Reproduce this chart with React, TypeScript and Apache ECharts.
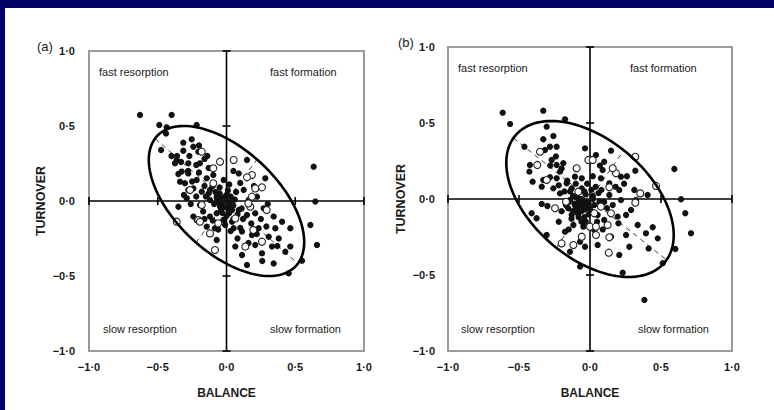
import React, { useEffect, useRef } from "react";
import * as echarts from "echarts";

// ---------- data ----------
const tickValues = [-1, -0.5, 0, 0.5, 1];
const tickLabels = ["−1·0", "−0·5", "0·0", "0·5", "1·0"];
const crossTicks = [-1, -0.5, 0.5, 1];
const quadrantLabels = ["fast resorption", "fast formation", "slow resorption", "slow formation"];
const panelTitles = ["(a)", "(b)"];
const xName = "BALANCE";
const yName = "TURNOVER";

// ellipse: [cx, cy, semi-major, semi-minor, angle (deg)]
const ellipseA = [0, 0, 0.666, 0.355, -38.7];
const ellipseB = [0, 0, 0.672, 0.399, -36.6];

const filledA = [
  [-0.629, 0.573], [-0.399, 0.573], [-0.489, 0.507], [-0.435, 0.491], [-0.217, 0.507], [-0.44, 0.45],
  [-0.476, 0.34], [-0.314, 0.389], [-0.253, 0.411], [-0.314, 0.335], [-0.241, 0.362], [-0.205, 0.329],
  [-0.362, 0.273], [-0.33, 0.26], [-0.278, 0.251], [-0.193, 0.251], [-0.375, 0.251], [-0.326, 0.196],
  [-0.278, 0.184], [-0.108, 0.218], [-0.338, 0.129], [-0.302, 0.118], [-0.217, 0.14], [-0.144, 0.151],
  [-0.096, 0.173], [-0.278, 0.073], [-0.241, 0.084], [-0.289, 0.018], [-0.18, 0.062], [-0.12, 0.073],
  [-0.35, -0.038], [-0.193, -0.027], [-0.12, 0.007], [-0.071, 0.029], [-0.241, -0.104], [-0.217, -0.127],
  [-0.12, -0.104], [-0.071, -0.082], [-0.047, -0.038], [-0.023, -0.127], [-0.144, -0.171], [-0.084, -0.182],
  [-0.071, -0.26], [-0.36, 0.3], [-0.27, 0.3], [-0.16, 0.28], [-0.13, 0.22], [-0.2, 0.19], [-0.25, 0.13],
  [-0.16, 0.1], [-0.31, 0.04], [-0.22, 0.03], [-0.15, 0.03], [-0.26, -0.02], [-0.17, -0.07], [-0.09, -0.02],
  [-0.1, -0.13], [-0.06, -0.19], [-0.16, -0.12],
  [-0.04, 0.02], [0.0, 0.0], [0.02, -0.02], [-0.02, -0.04], [0.03, 0.03], [-0.05, 0.05], [0.01, 0.07],
  [0.04, -0.06], [-0.03, -0.08], [0.0, -0.1], [0.06, 0.01], [-0.06, -0.01], [0.02, 0.11], [-0.02, 0.14],
  [0.05, -0.12], [0.07, 0.06], [-0.01, -0.16], [0.03, -0.2],
  [-0.01, 0.03], [0.01, -0.05], [-0.03, -0.01], [0.04, 0.0], [-0.07, 0.02], [0.0, 0.04], [0.02, -0.08],
  [-0.04, -0.06], [0.05, -0.03], [-0.08, 0.06], [-0.1, 0.1], [-0.13, 0.05], [-0.05, 0.09], [0.08, -0.09],
  [0.11, -0.05], [0.12, -0.12], [0.1, -0.18], [-0.28, 0.2], [-0.22, 0.24], [-0.35, 0.18], [-0.4, 0.3],
  [-0.2, 0.37], [-0.14, 0.3], [0.16, -0.28], [0.22, -0.22], [0.29, -0.17], [0.37, -0.3], [0.26, -0.4],
  [0.634, 0.229], [0.646, -0.004], [0.61, -0.16], [0.658, -0.293], [0.149, 0.273], [0.089, 0.184],
  [0.282, 0.151], [0.125, 0.073], [0.161, 0.007], [0.222, 0.029], [0.27, -0.049], [0.343, -0.104],
  [0.209, -0.082], [0.149, -0.093], [0.089, -0.06], [0.404, -0.138], [0.355, -0.182], [0.464, -0.182],
  [0.113, -0.204], [0.185, -0.227], [0.234, -0.182], [0.307, -0.238], [0.064, -0.304], [0.209, -0.293],
  [0.331, -0.304], [0.464, -0.304], [0.113, -0.36], [0.258, -0.349], [0.428, -0.338], [0.343, -0.416],
  [0.549, -0.398], [0.149, -0.427], [0.452, -0.482], [0.052, -0.182], [0.04, -0.138], [0.1, 0.12],
  [0.2, 0.1], [0.05, 0.2], [0.3, -0.02], [0.25, -0.12], [0.08, -0.25], [0.38, -0.25], [0.18, -0.15],
];

const openA = [
  [-0.362, -0.138], [-0.18, 0.329], [-0.047, 0.262], [-0.265, 0.073], [-0.205, -0.127], [-0.12, -0.216],
  [-0.084, -0.327], [-0.06, -0.149], [-0.18, -0.027], [-0.096, 0.118], [0.052, 0.273], [0.185, 0.173],
  [0.149, 0.158], [0.258, 0.091], [0.209, 0.084], [0.185, 0.029], [0.258, -0.271], [0.137, -0.304],
  [0.064, -0.116], [0.173, -0.038], [-0.193, -0.138], [0.195, -0.193], [-0.096, 0.218], [0.159, -0.016],
  [0.292, -0.06],
];

const filledB = [
  [-0.615, 0.568], [-0.563, 0.493], [-0.329, 0.581], [-0.176, 0.524], [-0.305, 0.476], [-0.462, 0.344],
  [-0.329, 0.393], [-0.258, 0.414], [-0.282, 0.344], [-0.235, 0.344], [-0.317, 0.322], [-0.035, 0.333],
  [-0.423, 0.224], [-0.427, 0.18], [-0.27, 0.257], [-0.235, 0.224], [-0.188, 0.235], [-0.211, 0.18],
  [-0.329, 0.125], [-0.404, 0.114], [-0.282, 0.143], [-0.235, 0.136], [-0.34, 0.081], [-0.258, 0.07],
  [-0.164, 0.103], [-0.106, 0.147], [-0.058, 0.136], [-0.129, 0.07], [-0.211, 0.037], [-0.34, -0.033],
  [-0.3, -0.046], [-0.411, -0.094], [-0.376, -0.127], [-0.141, -0.007], [-0.153, -0.061], [-0.106, -0.039],
  [-0.07, -0.028], [-0.129, -0.105], [-0.082, -0.094], [-0.117, -0.171], [-0.047, -0.182], [-0.176, -0.215],
  [-0.305, -0.237], [-0.07, -0.281], [-0.141, -0.347], [-0.035, -0.314], [-0.07, -0.445], [-0.058, 0.07],
  [0.594, 0.197], [0.641, -0.002], [0.671, -0.094], [0.711, -0.226], [0.383, -0.664], [0.148, 0.318],
  [0.042, 0.289], [0.319, 0.186], [0.218, 0.147], [0.089, 0.191], [0.077, 0.136], [0.206, 0.059],
  [0.312, 0.059], [0.406, 0.026], [0.136, 0.026], [0.218, -0.007], [0.324, -0.007], [0.066, -0.018],
  [0.254, -0.105], [0.289, -0.072], [0.195, -0.116], [0.054, -0.105], [0.1, -0.138], [0.336, -0.171],
  [0.442, -0.186], [0.394, -0.226], [0.254, -0.237], [0.477, -0.259], [0.148, -0.248], [0.054, -0.303],
  [0.277, -0.314], [0.413, -0.325], [0.601, -0.329], [0.206, -0.368], [0.23, -0.485], [0.512, -0.423],
  [0.03, -0.204], [0.136, 0.103], [0.1, 0.245],
  [-0.02, -0.02], [-0.05, -0.05], [0.0, -0.06], [-0.08, -0.02], [-0.03, 0.03], [0.02, 0.02], [-0.1, -0.06],
  [-0.06, 0.0], [-0.01, -0.1], [0.03, -0.04], [-0.12, 0.02], [-0.04, -0.12], [-0.09, -0.09], [0.01, 0.06],
  [-0.15, -0.02], [-0.06, -0.15], [-0.02, 0.1], [0.04, 0.08], [-0.18, 0.05], [-0.2, -0.08], [-0.13, -0.13],
  [0.05, -0.15], [-0.22, 0.09], [-0.1, 0.2], [0.06, 0.04],
  [-0.03, -0.04], [-0.07, -0.04], [-0.04, -0.07], [-0.01, -0.03], [-0.06, -0.08], [-0.08, -0.06],
  [-0.11, -0.03], [-0.02, -0.06], [0.01, -0.08], [-0.05, -0.01], [-0.09, 0.01], [-0.12, -0.08],
  [-0.03, -0.15], [-0.08, -0.12], [0.02, 0.0], [-0.04, 0.05], [-0.14, 0.05], [-0.17, -0.04], [-0.16, 0.12],
  [-0.2, 0.2], [-0.24, 0.28], [-0.28, 0.22], [-0.1, 0.1], [0.02, 0.15], [0.08, 0.06], [0.1, -0.02],
  [0.12, -0.06], [0.16, -0.04], [0.18, 0.08], [0.2, -0.16], [0.26, 0.15], [0.09, -0.2], [-0.15, -0.2],
  [-0.22, -0.15], [0.07, 0.22], [0.24, 0.1],
];

const openB = [
  [-0.352, 0.311], [-0.371, 0.224], [-0.305, 0.125], [-0.094, 0.202], [-0.012, 0.257], [-0.246, -0.061],
  [-0.169, -0.018], [-0.082, 0.048], [-0.2, -0.292], [-0.117, -0.303], [-0.058, -0.248], [0.0, -0.182],
  [0.319, 0.278], [0.465, 0.086], [0.354, 0.037], [0.319, -0.024], [0.183, 0.169], [0.16, 0.202],
  [0.019, 0.257], [0.136, 0.077], [0.148, -0.094], [0.124, -0.171], [0.042, -0.182], [0.042, -0.237],
  [0.136, -0.252], [0.132, -0.353], [0.03, -0.094], [0.077, -0.05],
];

// ---------- styling ----------
const NAVY = "#000066";
const FONT = "'Liberation Sans', Arial, sans-serif";
const FONT_N = "'Liberation Sans Narrow', 'Arial Narrow', 'Liberation Sans', Arial, sans-serif";
const INK = "#1a1a1a";

const grids = [
  { left: 89, top: 51, width: 275, height: 300 },
  { left: 448, top: 47, width: 284, height: 304 },
];

function crossRender(params: any, api: any) {
  const c = (x: number, y: number) => api.coord([x, y]);
  const children: any[] = [];
  const lineStyle = { stroke: "#000", lineWidth: 1.6 };
  const h1 = c(-1, 0), h2 = c(1, 0), v1 = c(0, -1), v2 = c(0, 1);
  children.push({ type: "line", shape: { x1: h1[0], y1: h1[1], x2: h2[0], y2: h2[1] }, style: lineStyle });
  children.push({ type: "line", shape: { x1: v1[0], y1: v1[1], x2: v2[0], y2: v2[1] }, style: lineStyle });
  crossTicks.forEach((t) => {
    const p = c(t, 0);
    children.push({ type: "line", shape: { x1: p[0], y1: p[1] - 4, x2: p[0], y2: p[1] + 4 }, style: lineStyle });
    const q = c(0, t);
    children.push({ type: "line", shape: { x1: q[0] - 4, y1: q[1], x2: q[0] + 4, y2: q[1] }, style: lineStyle });
  });
  return { type: "group", children };
}

function makeEllipseRender(ell: number[], part: "dash" | "ring") {
  return (params: any, api: any) => {
    const [cx, cy, a, b, deg] = ell;
    const th = (deg * Math.PI) / 180;
    const ct = Math.cos(th), st = Math.sin(th);
    const children: any[] = [];
    if (part === "ring") {
      const pts: number[][] = [];
      for (let k = 0; k <= 120; k++) {
        const t = (k / 120) * Math.PI * 2;
        const x = cx + a * Math.cos(t) * ct - b * Math.sin(t) * st;
        const y = cy + a * Math.cos(t) * st + b * Math.sin(t) * ct;
        pts.push(api.coord([x, y]));
      }
      children.push({ type: "polyline", shape: { points: pts }, style: { stroke: "#000", lineWidth: 2.6, fill: null } });
    } else {
      const dash = { stroke: "#444", lineWidth: 1, lineDash: [5, 4] };
      const m1 = api.coord([cx - a * ct, cy - a * st]);
      const m2 = api.coord([cx + a * ct, cy + a * st]);
      const n1 = api.coord([cx + b * st, cy - b * ct]);
      const n2 = api.coord([cx - b * st, cy + b * ct]);
      children.push({ type: "line", shape: { x1: m1[0], y1: m1[1], x2: m2[0], y2: m2[1] }, style: dash });
      children.push({ type: "line", shape: { x1: n1[0], y1: n1[1], x2: n2[0], y2: n2[1] }, style: dash });
    }
    return { type: "group", children };
  };
}

function labelFmt(v: number) {
  const i = tickValues.findIndex((t) => Math.abs(t - v) < 1e-6);
  return i >= 0 ? tickLabels[i] : "";
}

function buildOption() {
  const xAxis: any[] = [];
  const yAxis: any[] = [];
  const series: any[] = [];
  const graphic: any[] = [
    { type: "rect", shape: { x: 0, y: 0, width: 774, height: 8 }, style: { fill: NAVY }, silent: true },
    { type: "rect", shape: { x: 0, y: 0, width: 5, height: 410 }, style: { fill: NAVY }, silent: true },
  ];
  const sets = [
    { filled: filledA, open: openA, ell: ellipseA },
    { filled: filledB, open: openB, ell: ellipseB },
  ];
  grids.forEach((g, i) => {
    xAxis.push({
      gridIndex: i, type: "value", min: -1, max: 1, interval: 0.5,
      axisLine: { show: false }, axisTick: { show: false }, splitLine: { show: false },
      axisLabel: { formatter: labelFmt, margin: 10, fontFamily: FONT_N, fontWeight: "bold", fontSize: 11, color: INK },
      name: xName, nameLocation: "middle", nameGap: 36,
      nameTextStyle: { fontFamily: FONT_N, fontWeight: "bold", fontSize: 12, color: INK },
    });
    yAxis.push({
      gridIndex: i, type: "value", min: -1, max: 1, interval: 0.5,
      axisLine: { show: false }, axisTick: { show: false }, splitLine: { show: false },
      axisLabel: { formatter: labelFmt, margin: i === 0 ? 14 : 13, fontFamily: FONT_N, fontWeight: "bold", fontSize: 11, color: INK },
      name: yName, nameLocation: "middle", nameGap: i === 0 ? 42 : 41, nameRotate: 90,
      nameTextStyle: { fontFamily: FONT_N, fontWeight: "bold", fontSize: 12.5, color: INK },
    });
    const s = sets[i];
    series.push({ type: "custom", xAxisIndex: i, yAxisIndex: i, data: [[0, 0]], renderItem: crossRender, clip: false, silent: true, z: 1 });
    series.push({ type: "custom", xAxisIndex: i, yAxisIndex: i, data: [[0, 0]], renderItem: makeEllipseRender(s.ell, "dash"), clip: false, silent: true, z: 2 });
    series.push({
      type: "scatter", xAxisIndex: i, yAxisIndex: i, data: s.filled, symbol: "circle", symbolSize: 6.3,
      itemStyle: { color: "#111", opacity: 1 }, z: 3, silent: true,
    });
    series.push({
      type: "scatter", xAxisIndex: i, yAxisIndex: i, data: s.open, symbol: "circle", symbolSize: 7,
      itemStyle: { color: "#fff", borderColor: "#222", borderWidth: 1.1, opacity: 1 }, z: 4, silent: true,
    });
    series.push({ type: "custom", xAxisIndex: i, yAxisIndex: i, data: [[0, 0]], renderItem: makeEllipseRender(s.ell, "ring"), clip: false, silent: true, z: 5 });

    // quadrant labels and panel title
    const qStyle = { font: `11px ${FONT}`, fill: INK };
    const topY = g.top + 21;
    const botY = g.top + g.height - 22;
    const xl = i === 0 ? [g.left + 10, g.left + 181, g.left + 14, g.left + 181] : [g.left + 10, g.left + 182, g.left + 13, g.left + 190];
    const ys = [topY, topY, botY, botY];
    quadrantLabels.forEach((t, k) => {
      graphic.push({ type: "text", x: xl[k], y: ys[k], style: { ...qStyle, text: t, textVerticalAlign: "middle" }, silent: true });
    });
    graphic.push({
      type: "text", x: i === 0 ? 37 : 398, y: i === 0 ? 46 : 42,
      style: { text: panelTitles[i], font: `13px ${FONT}`, fill: INK, textVerticalAlign: "middle" }, silent: true,
    });
  });

  return {
    animation: false,
    backgroundColor: "#fff",
    grid: grids.map((g) => ({ ...g, show: true, borderColor: "#9a9a9a", borderWidth: 2, backgroundColor: "transparent" })),
    xAxis, yAxis, series, graphic,
  };
}

export default function App() {
  const ref = useRef<HTMLDivElement>(null);
  useEffect(() => {
    document.body.style.margin = "0";
    if (!ref.current) return;
    const chart = echarts.init(ref.current, null, { renderer: "svg" });
    chart.setOption(buildOption() as any);
    return () => chart.dispose();
  }, []);
  return <div ref={ref} style={{ width: 774, height: 410 }} />;
}
